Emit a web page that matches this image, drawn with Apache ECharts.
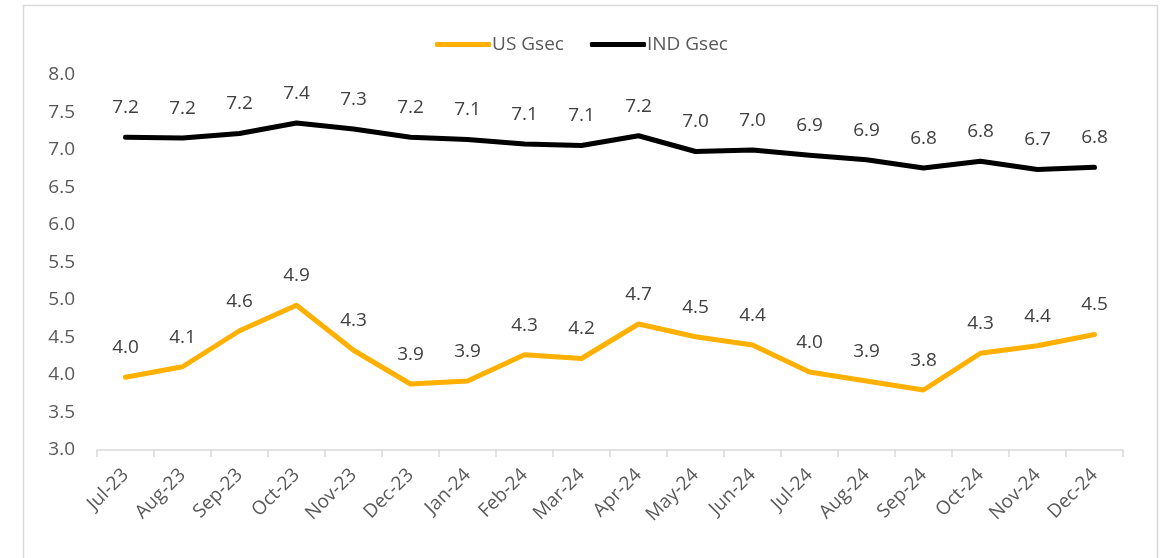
<!DOCTYPE html>
<html>
<head>
<meta charset="utf-8">
<script src="https://cdn.jsdelivr.net/npm/echarts@6/dist/echarts.min.js"></script>
<style>
	html, body { margin: 0; padding: 0; background: #fff; }
	#main { width: 1163px; height: 558px; }
</style>
</head>
<body>
<div id="main"></div>
<script>
var months = ['Jul-23', 'Aug-23', 'Sep-23', 'Oct-23', 'Nov-23', 'Dec-23', 'Jan-24', 'Feb-24', 'Mar-24',
	'Apr-24', 'May-24', 'Jun-24', 'Jul-24', 'Aug-24', 'Sep-24', 'Oct-24', 'Nov-24', 'Dec-24'];
var usGsec = [3.97, 4.11, 4.59, 4.93, 4.33, 3.88, 3.92, 4.27, 4.22, 4.68, 4.51, 4.40, 4.04, 3.92, 3.80, 4.29, 4.39, 4.54];
var indGsec = [7.17, 7.16, 7.22, 7.36, 7.28, 7.17, 7.14, 7.08, 7.06, 7.19, 6.98, 7.00, 6.93, 6.87, 6.76, 6.85, 6.74, 6.77];
var yTicks = { min: 3, max: 8, interval: 0.5 };

var myChart = echarts.init(document.getElementById('main'));

function lineSeries(name, data, color) {
	return {
		name: name,
		type: 'line',
		data: data,
		symbol: 'circle',
		symbolSize: 0,
		showSymbol: true,
		lineStyle: { width: 5, color: color, cap: 'round', join: 'round' },
		itemStyle: { color: color },
		label: {
			show: true,
			position: 'top',
			distance: 20,
			fontSize: 19,
			color: '#404040',
			fontFamily: 'Open Sans',
			formatter: function(p) {
				return p.value.toFixed(1);
			}
		}
	};
}

var option = {
	animation: false,
	graphic: [{
		type: 'rect',
		left: 21,
		top: 3,
		shape: { width: 1134, height: 554 },
		style: { fill: 'none', stroke: '#d9d9d9', lineWidth: 1.5 },
		silent: true
	}],
	legend: {
		top: 30,
		left: 'center',
		itemWidth: 56,
		itemHeight: 5,
		itemGap: 26,
		itemStyle: { borderWidth: 0 },
		icon: 'roundRect',
		textStyle: { fontSize: 19, color: '#595959', fontFamily: 'Open Sans', padding: [0, 0, 0, -4] },
		data: ['US Gsec', 'IND Gsec']
	},
	grid: {
		left: 97,
		right: 40,
		top: 75,
		bottom: 108,
		containLabel: false
	},
	xAxis: {
		type: 'category',
		data: months,
		boundaryGap: true,
		axisLine: { lineStyle: { color: '#d9d9d9', width: 1.5 } },
		axisTick: { show: true, length: 7, lineStyle: { color: '#d9d9d9', width: 1.5 } },
		axisLabel: {
			rotate: 45,
			fontSize: 19,
			color: '#595959',
			fontFamily: 'Open Sans',
			margin: 22,
			interval: 0
		}
	},
	yAxis: {
		type: 'value',
		min: yTicks.min,
		max: yTicks.max,
		interval: yTicks.interval,
		axisLine: { show: false },
		axisTick: { show: false },
		splitLine: { show: false },
		axisLabel: {
			fontSize: 19,
			color: '#595959',
			fontFamily: 'Open Sans',
			margin: 22,
			formatter: function(v) {
				return v.toFixed(1);
			}
		}
	},
	series: [
		lineSeries('US Gsec', usGsec, '#FFB000'),
		lineSeries('IND Gsec', indGsec, '#000000')
	]
};

myChart.setOption(option);
</script>
</body>
</html>
